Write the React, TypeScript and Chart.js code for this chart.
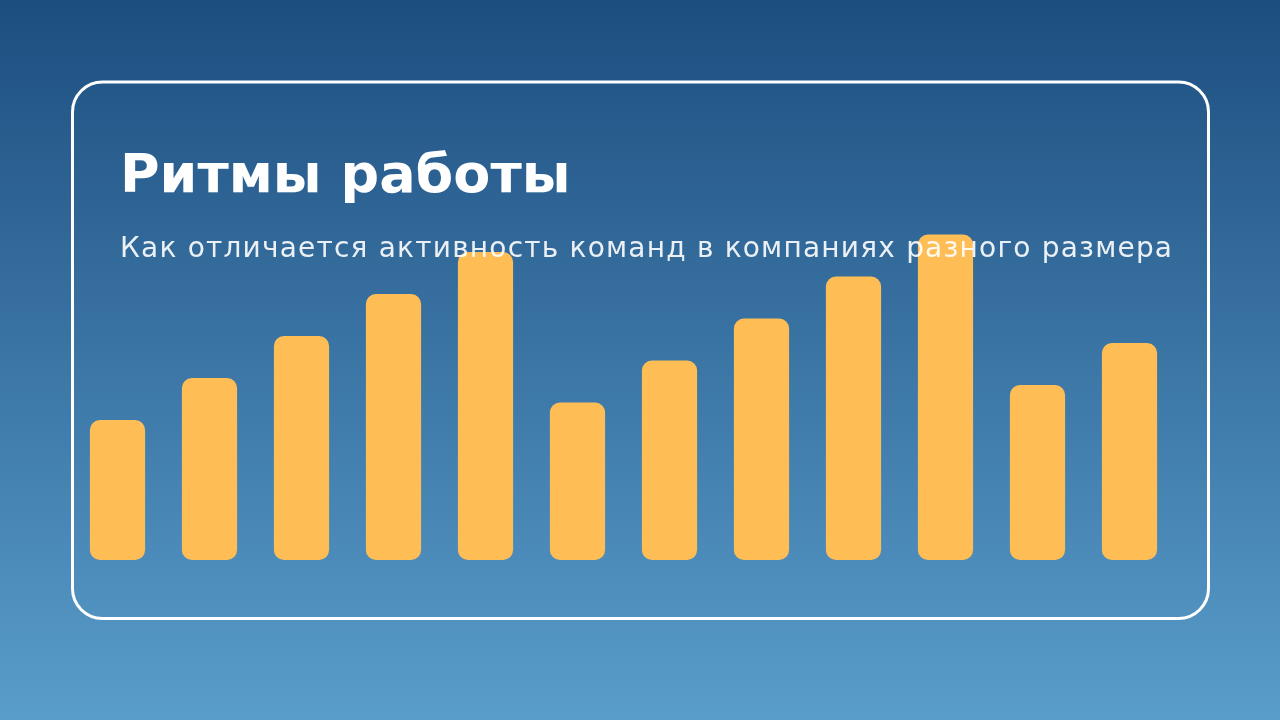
import { useEffect, useRef } from "react"
import { Chart, registerables, Plugin } from "chart.js"

Chart.register(...registerables)

const months = ["1", "2", "3", "4", "5", "6", "7", "8", "9", "10", "11", "12"]
const activity = [40, 52, 64, 76, 88, 45, 57, 69, 81, 93, 50, 62]

const title = "Ритмы работы"
const subtitle = "Как отличается активность команд в компаниях разного размера"

// background gradient + framed card, text drawn on top of the bars
const decorPlugin: Plugin<"bar"> = {
  id: "decor",
  beforeDraw(chart) {
    const { ctx, width, height } = chart
    ctx.save()
    const grad = ctx.createLinearGradient(0, 0, 0, height)
    grad.addColorStop(0, "#1d4e80")
    grad.addColorStop(1, "#599dca")
    ctx.fillStyle = grad
    ctx.fillRect(0, 0, width, height)

    ctx.strokeStyle = "#ffffff"
    ctx.lineWidth = 3
    ctx.beginPath()
    ctx.roundRect(72.5, 82, 1136, 536.5, 30)
    ctx.stroke()
    ctx.restore()
  },
  afterDraw(chart) {
    const { ctx } = chart
    ctx.save()
    ctx.textBaseline = "alphabetic"
    ctx.textAlign = "left"
    ctx.fillStyle = "#ffffff"
    ctx.font = "bold 54px 'DejaVu Sans'"
    ctx.fillText(title, 120, 192)
    ctx.fillStyle = "rgba(255, 255, 255, 0.9)"
    ctx.font = "28px 'DejaVu Sans'"
    ;(ctx as any).letterSpacing = "1.2px"
    ctx.fillText(subtitle, 120, 257)
    ctx.restore()
  },
}

export default function App() {
  const canvasRef = useRef<HTMLCanvasElement>(null)
  const chartRef = useRef<Chart<"bar"> | null>(null)

  useEffect(() => {
    if (!canvasRef.current) return
    if (chartRef.current) chartRef.current.destroy()

    chartRef.current = new Chart(canvasRef.current, {
      type: "bar",
      data: {
        labels: months,
        datasets: [
          {
            data: activity,
            backgroundColor: "#ffbd56",
            borderRadius: 10,
            borderSkipped: false,
            barPercentage: 0.6,
            categoryPercentage: 1,
          },
        ],
      },
      options: {
        animation: false,
        responsive: true,
        maintainAspectRatio: false,
        layout: {
          padding: { left: 71.5, right: 104.5, top: 210, bottom: 160 },
        },
        scales: {
          x: { display: false },
          y: { display: false, min: 0, max: 100 },
        },
        plugins: {
          legend: { display: false },
          tooltip: { enabled: false },
        },
      },
      plugins: [decorPlugin],
    })

    return () => {
      if (chartRef.current) {
        chartRef.current.destroy()
        chartRef.current = null
      }
    }
  }, [])

  return (
    <div style={{ position: "fixed", left: 0, top: 0, width: 1280, height: 720 }}>
      <canvas ref={canvasRef} />
    </div>
  )
}
